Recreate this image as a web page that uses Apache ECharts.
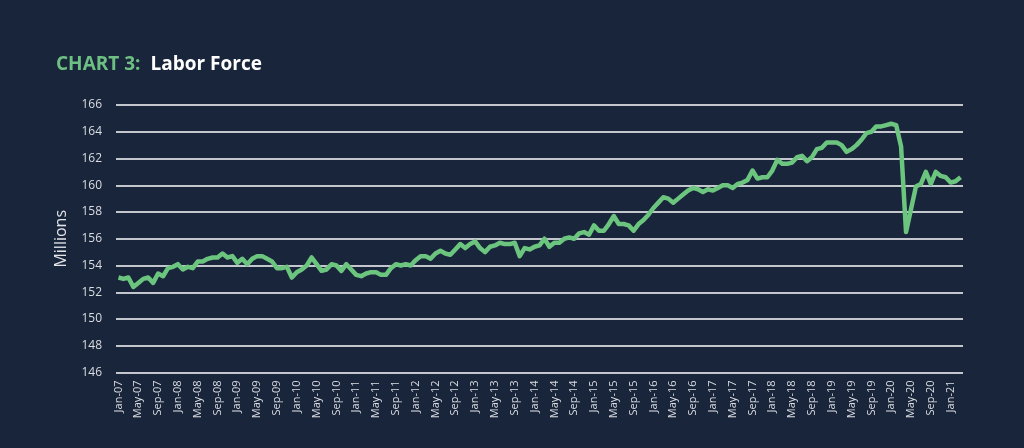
<!DOCTYPE html>
<html>
<head>
<meta charset="utf-8">
<script src="https://cdn.jsdelivr.net/npm/echarts@6/dist/echarts.min.js"></script>
<style>
html,body{margin:0;padding:0;background:#19253a;}
#c{width:1024px;height:448px;}
</style>
</head>
<body>
<div id="c"></div>
<script>
const monthNames = ['Jan','Feb','Mar','Apr','May','Jun','Jul','Aug','Sep','Oct','Nov','Dec'];
const startYear = 2007;
const laborForce = [
  // 2007
  153.1, 153.0, 153.1, 152.4, 152.7, 153.0, 153.1, 152.7, 153.4, 153.2, 153.8, 153.9,
  // 2008
  154.1, 153.7, 153.9, 153.8, 154.3, 154.3, 154.5, 154.6, 154.6, 154.9, 154.6, 154.7,
  // 2009
  154.2, 154.5, 154.1, 154.5, 154.7, 154.7, 154.5, 154.3, 153.8, 153.8, 153.9, 153.1,
  // 2010
  153.5, 153.7, 154.0, 154.6, 154.1, 153.6, 153.7, 154.1, 154.0, 153.6, 154.1, 153.7,
  // 2011
  153.3, 153.2, 153.4, 153.5, 153.5, 153.3, 153.3, 153.8, 154.1, 154.0, 154.1, 154.0,
  // 2012
  154.4, 154.7, 154.7, 154.5, 154.9, 155.1, 154.9, 154.8, 155.2, 155.6, 155.3, 155.6,
  // 2013
  155.8, 155.3, 155.0, 155.4, 155.5, 155.7, 155.6, 155.6, 155.7, 154.7, 155.3, 155.2,
  // 2014
  155.4, 155.5, 156.0, 155.4, 155.7, 155.7, 156.0, 156.1, 156.0, 156.4, 156.5, 156.3,
  // 2015
  157.0, 156.6, 156.6, 157.1, 157.7, 157.1, 157.1, 157.0, 156.6, 157.1, 157.4, 157.8,
  // 2016
  158.3, 158.7, 159.1, 159.0, 158.7, 159.0, 159.3, 159.6, 159.8, 159.7, 159.5, 159.7,
  // 2017
  159.6, 159.8, 160.0, 160.0, 159.8, 160.1, 160.2, 160.4, 161.1, 160.5, 160.6, 160.6,
  // 2018
  161.1, 161.9, 161.6, 161.6, 161.7, 162.1, 162.2, 161.8, 162.1, 162.7, 162.8, 163.2,
  // 2019
  163.2, 163.2, 163.0, 162.5, 162.7, 163.0, 163.4, 163.9, 164.0, 164.4, 164.4, 164.5,
  // 2020
  164.6, 164.5, 162.9, 156.5, 158.2, 159.9, 160.1, 161.0, 160.1, 161.0, 160.7, 160.6,
  // 2021
  160.2, 160.3, 160.6
];
const categories = laborForce.map((v, i) => {
  const y = startYear + Math.floor(i / 12);
  return monthNames[i % 12] + '-' + String(y % 100).padStart(2, '0');
});
const yTicks = { min: 146, max: 166, step: 2 };

const chart = echarts.init(document.getElementById('c'));
chart.setOption({
  backgroundColor: '#19253a',
  animation: false,
  title: {
    left: 51, top: 50,
    text: '{a|CHART 3:}  {b|Labor Force}',
    textStyle: {
      rich: {
        a: { fontFamily: 'Open Sans', fontWeight: 'bold', fontSize: 19, color: '#6dbf83' },
        b: { fontFamily: 'Open Sans', fontWeight: 'bold', fontSize: 19, color: '#ffffff' }
      }
    }
  },
  grid: { left: 116, right: 61, top: 105, bottom: 75.5, containLabel: false },
  xAxis: {
    type: 'category',
    data: categories,
    boundaryGap: true,
    axisLine: { show: false },
    axisTick: { show: false },
    axisLabel: {
      interval: 3,
      rotate: 90,
      color: '#dadde2',
      fontFamily: 'Open Sans',
      fontSize: 11,
      margin: 8
    },
    splitLine: { show: false }
  },
  yAxis: {
    type: 'value',
    min: yTicks.min, max: yTicks.max, interval: yTicks.step,
    name: 'Millions',
    nameLocation: 'middle',
    nameGap: 47,
    nameTextStyle: { color: '#e2e4e8', fontFamily: 'Open Sans', fontSize: 16 },
    axisLine: { show: false },
    axisTick: { show: false },
    axisLabel: { color: '#dadde2', fontFamily: 'Open Sans', fontSize: 12, margin: 14 },
    splitLine: { lineStyle: { color: '#c3c7cd', width: 2 } }
  },
  series: [{
    type: 'line',
    data: laborForce,
    showSymbol: false,
    symbol: 'none',
    lineStyle: { color: '#6cc57f', width: 4.5, join: 'round' },
    itemStyle: { color: '#6cc57f' }
  }]
});
</script>
</body>
</html>
